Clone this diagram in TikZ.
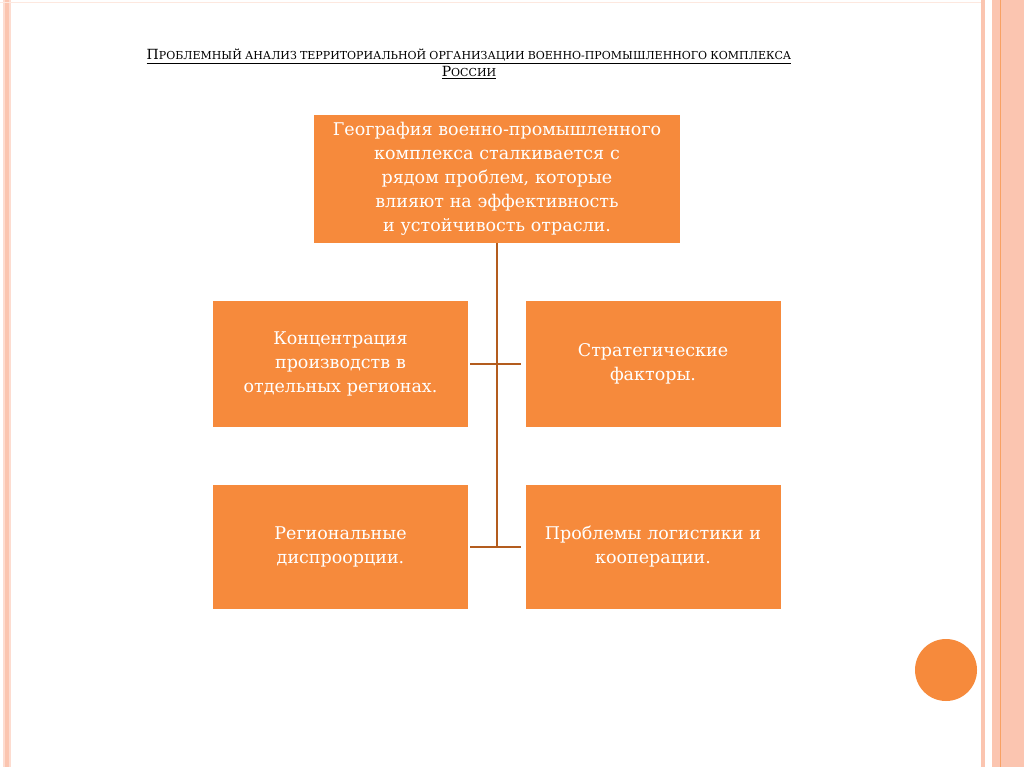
\documentclass[tikz,border=0pt]{standalone}
\usepackage{fontspec}
\setmainfont{DejaVu Serif}
\begin{document}
\begin{tikzpicture}[x=1pt,y=-1pt,
  box/.style={fill=boxc,draw=none,align=center,font=\fontsize{17.5}{24}\selectfont,text=white,inner sep=2pt},
  link/.style={draw=linec,line width=2.2pt}]
\definecolor{boxc}{HTML}{F68A3C}
\definecolor{linec}{HTML}{B35C1E}
\definecolor{stripe}{HTML}{FBC5B0}
\useasboundingbox (0,0) rectangle (1024,767);
\fill[white] (0,0) rectangle (1024,767);
\fill[stripe!60] (3,0) rectangle (11,767);
\fill[stripe] (5,0) rectangle (9,767);
\fill[stripe] (981,0) rectangle (985,767);
\fill[stripe] (992,0) rectangle (1024,767);
\draw[boxc!80,line width=0.8pt] (1000,0) -- (1000,767);
\draw[stripe!40] (0,2) -- (981,2);
\newcommand\SC[2]{{\fontsize{14}{14}\selectfont #1}{\fontsize{11}{11}\selectfont #2}}
\node[align=center] (title) at (469,64)
 {\underline{\SC{П}{РОБЛЕМНЫЙ} \SC{}{АНАЛИЗ} \SC{}{ТЕРРИТОРИАЛЬНОЙ} \SC{}{ОРГАНИЗАЦИИ} \SC{}{ВОЕННО-ПРОМЫШЛЕННОГО} \SC{}{КОМПЛЕКСА}}\\[2pt] \underline{\SC{Р}{ОССИИ}}};
\node[box,minimum width=366,minimum height=128,text width=362] (top) at (497,179)
 {География военно-промышленного комплекса сталкивается с рядом проблем, которые влияют на эффективность и устойчивость отрасли.};
\node[box,minimum width=255,minimum height=126,text width=240] (a) at (340.5,364) {Концентрация\\производств в\\отдельных регионах.};
\node[box,minimum width=255,minimum height=126,text width=240] (b) at (653,364) {Стратегические\\факторы.};
\node[box,minimum width=255,minimum height=124,text width=240] (c) at (340.5,547) {Региональные\\диспроорции.};
\node[box,minimum width=255,minimum height=124,text width=250] (d) at (653,547) {Проблемы логистики и\\кооперации.};
\coordinate (j) at (497,548);
\draw[link] (top.south) -- (j);
\draw[link] (a.east) ++(2,0) -- ([xshift=-4pt]b.west);
\draw[link] (c.east) ++(2,0) -- ([xshift=-4pt]d.west);
\node[circle,fill=boxc,minimum size=62,inner sep=0] (o) at (946,670) {};
\end{tikzpicture}
\end{document}
